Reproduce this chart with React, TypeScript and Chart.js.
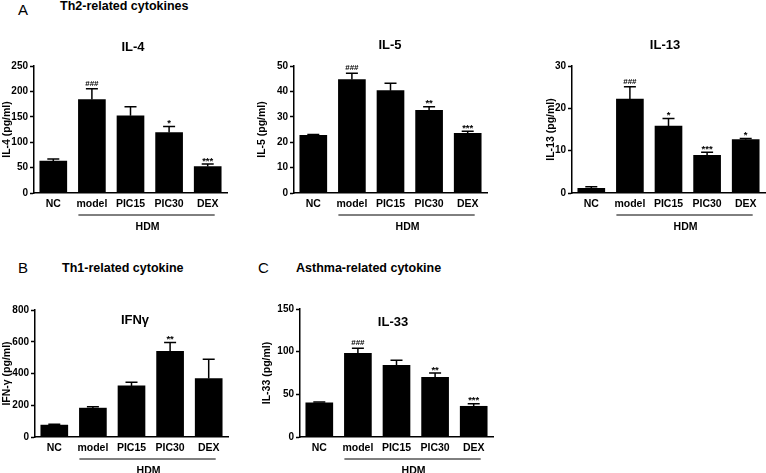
import React, { useEffect, useRef } from 'react';
import { Chart, registerables } from 'chart.js';

Chart.register(...registerables);

const FONT = "'Liberation Sans', Arial, Helvetica, sans-serif";
Chart.defaults.font.family = FONT;

const categories = ['NC', 'model', 'PIC15', 'PIC30', 'DEX'];

const il4Values = [63, 184, 152, 119, 52];
const il4Errors = [4, 21, 18, 12, 5];
const il4Marks = ['', '###', '', '*', '***'];

const il5Values = [22.7, 44.7, 40.3, 32.5, 23.5];
const il5Errors = [0.3, 2.4, 2.9, 1.5, 0.8];
const il5Marks = ['', '###', '', '**', '***'];

const il13Values = [1.1, 22.2, 15.8, 8.9, 12.6];
const il13Errors = [0.4, 2.9, 1.8, 0.7, 0.3];
const il13Marks = ['', '###', '*', '***', '*'];

const ifnValues = [75, 182, 322, 540, 368];
const ifnErrors = [5, 8, 23, 55, 122];
const ifnMarks = ['', '', '', '**', ''];

const il33Values = [40, 98, 84, 70, 36];
const il33Errors = [1, 6, 6, 5, 3];
const il33Marks = ['', '###', '', '**', '***'];

const groupLabel = 'HDM';

type Rect = { x: number; y: number; w: number; h: number };
type Area = { l: number; t: number; r: number; b: number };
type Spec = {
  id: string;
  title: string;
  yTitle: string;
  values: number[];
  errors: number[];
  marks: string[];
  max: number;
  step: number;
  canvas: Rect;
  area: Area;
  titleX: number;
  titleY: number;
};

const specs: Spec[] = [
  { id: 'il4', title: 'IL-4', yTitle: 'IL-4 (pg/ml)', values: il4Values, errors: il4Errors, marks: il4Marks, max: 250, step: 50,
    canvas: { x: 1, y: 30, w: 249, h: 205 }, area: { l: 34, t: 66, r: 227, b: 193 }, titleX: 133, titleY: 47 },
  { id: 'il5', title: 'IL-5', yTitle: 'IL-5 (pg/ml)', values: il5Values, errors: il5Errors, marks: il5Marks, max: 50, step: 10,
    canvas: { x: 256, y: 30, w: 244, h: 205 }, area: { l: 294, t: 66, r: 487, b: 193 }, titleX: 390, titleY: 45 },
  { id: 'il13', title: 'IL-13', yTitle: 'IL-13 (pg/ml)', values: il13Values, errors: il13Errors, marks: il13Marks, max: 30, step: 10,
    canvas: { x: 545, y: 30, w: 221, h: 205 }, area: { l: 572, t: 66, r: 765, b: 193 }, titleX: 665, titleY: 45 },
  { id: 'ifn', title: 'IFNγ', yTitle: 'IFN-γ (pg/ml)', values: ifnValues, errors: ifnErrors, marks: ifnMarks, max: 800, step: 200,
    canvas: { x: 1, y: 300, w: 249, h: 173 }, area: { l: 35, t: 310, r: 228, b: 437 }, titleX: 135, titleY: 320 },
  { id: 'il33', title: 'IL-33', yTitle: 'IL-33 (pg/ml)', values: il33Values, errors: il33Errors, marks: il33Marks, max: 150, step: 50,
    canvas: { x: 261, y: 300, w: 247, h: 173 }, area: { l: 300, t: 309, r: 493, b: 437 }, titleX: 393, titleY: 322 },
];

function annotPlugin(spec: Spec) {
  return {
    id: 'annot_' + spec.id,
    afterDatasetsDraw(chart: any) {
      const ctx = chart.ctx as CanvasRenderingContext2D;
      const meta = chart.getDatasetMeta(0);
      const ys = chart.scales.y;
      ctx.save();
      ctx.strokeStyle = '#000';
      ctx.fillStyle = '#000';
      ctx.lineWidth = 1.5;
      meta.data.forEach((el: any, i: number) => {
        const x = el.x;
        const yTop = ys.getPixelForValue(spec.values[i] + spec.errors[i]);
        ctx.beginPath();
        ctx.moveTo(x, el.y);
        ctx.lineTo(x, yTop);
        ctx.moveTo(x - 6, yTop);
        ctx.lineTo(x + 6, yTop);
        ctx.stroke();
        const mark = spec.marks[i];
        if (mark) {
          const isHash = mark.startsWith('#');
          ctx.font = `bold ${isHash ? 8 : 9.5}px ${FONT}`;
          ctx.textAlign = 'center';
          ctx.textBaseline = 'alphabetic';
          ctx.fillText(mark, x, yTop - (isHash ? 3 : 0.5));
        }
      });
      // group line
      const x1 = meta.data[1].x - 13.5;
      const x2 = meta.data[4].x + 7;
      const yLine = chart.chartArea.bottom + 22;
      ctx.lineWidth = 1;
      ctx.beginPath();
      ctx.moveTo(x1, yLine);
      ctx.lineTo(x2, yLine);
      ctx.stroke();
      ctx.font = `bold 10.5px ${FONT}`;
      ctx.textAlign = 'center';
      ctx.textBaseline = 'middle';
      ctx.fillText(groupLabel, (x1 + x2) / 2 + 1, yLine + 12);
      // title
      ctx.font = `bold 13px ${FONT}`;
      ctx.fillText(spec.title, spec.titleX - spec.canvas.x, spec.titleY - spec.canvas.y);
      ctx.restore();
    },
  };
}

function Panel({ spec }: { spec: Spec }) {
  const ref = useRef<HTMLCanvasElement>(null);
  const c = spec.canvas;
  const a = spec.area;
  useEffect(() => {
    const chart = new Chart(ref.current as HTMLCanvasElement, {
      type: 'bar',
      data: {
        labels: categories,
        datasets: [{ data: spec.values, backgroundColor: '#000', borderWidth: 0, barThickness: 27 }],
      },
      options: {
        responsive: false,
        animation: false,
        devicePixelRatio: 1,
        layout: { padding: { left: 0, top: a.t - c.y, right: c.x + c.w - a.r, bottom: 0 } },
        plugins: { legend: { display: false }, tooltip: { enabled: false }, title: { display: false } },
        scales: {
          x: {
            grid: { display: false, drawTicks: false },
            border: { display: true, color: '#000', width: 1.5 },
            ticks: { color: '#000', font: { size: 10.5, weight: 'bold' }, padding: 5, autoSkip: false, maxRotation: 0 },
            afterFit: (s: any) => { s.height = c.y + c.h - a.b; },
          },
          y: {
            min: 0,
            max: spec.max,
            ticks: { stepSize: spec.step, color: '#000', font: { size: 10, weight: 'bold' }, padding: 2 },
            grid: { drawOnChartArea: false, drawTicks: true, tickLength: 4, tickColor: '#000', tickWidth: 1.5 },
            border: { color: '#000', width: 1.5 },
            title: { display: true, text: spec.yTitle, color: '#000', font: { size: 10.5, weight: 'bold' }, padding: 0 },
            afterFit: (s: any) => { s.width = a.l - c.x; },
          },
        },
      } as any,
      plugins: [annotPlugin(spec)],
    });
    return () => chart.destroy();
  }, []);
  return (
    <canvas
      ref={ref}
      width={c.w}
      height={c.h}
      style={{ position: 'absolute', left: c.x, top: c.y, width: c.w, height: c.h }}
    />
  );
}

const headerStyle = (left: number, top: number, size: number, bold: boolean): React.CSSProperties => ({
  position: 'absolute',
  left,
  top,
  fontFamily: FONT,
  fontSize: size,
  fontWeight: bold ? 'bold' : 'normal',
  lineHeight: 1,
  whiteSpace: 'nowrap',
  color: '#000',
});

export default function App() {
  return (
    <div style={{ position: 'fixed', left: 0, top: 0, width: 766, height: 473, background: '#fff', overflow: 'hidden' }}>
      <div style={headerStyle(18, 2, 15, false)}>A</div>
      <div style={headerStyle(60, 0, 12.5, true)}>Th2-related cytokines</div>
      <div style={headerStyle(18, 260, 15, false)}>B</div>
      <div style={headerStyle(62, 262, 12.5, true)}>Th1-related cytokine</div>
      <div style={headerStyle(258, 260, 15, false)}>C</div>
      <div style={headerStyle(296, 262, 12.5, true)}>Asthma-related cytokine</div>
      {specs.map((s) => (
        <Panel key={s.id} spec={s} />
      ))}
    </div>
  );
}
